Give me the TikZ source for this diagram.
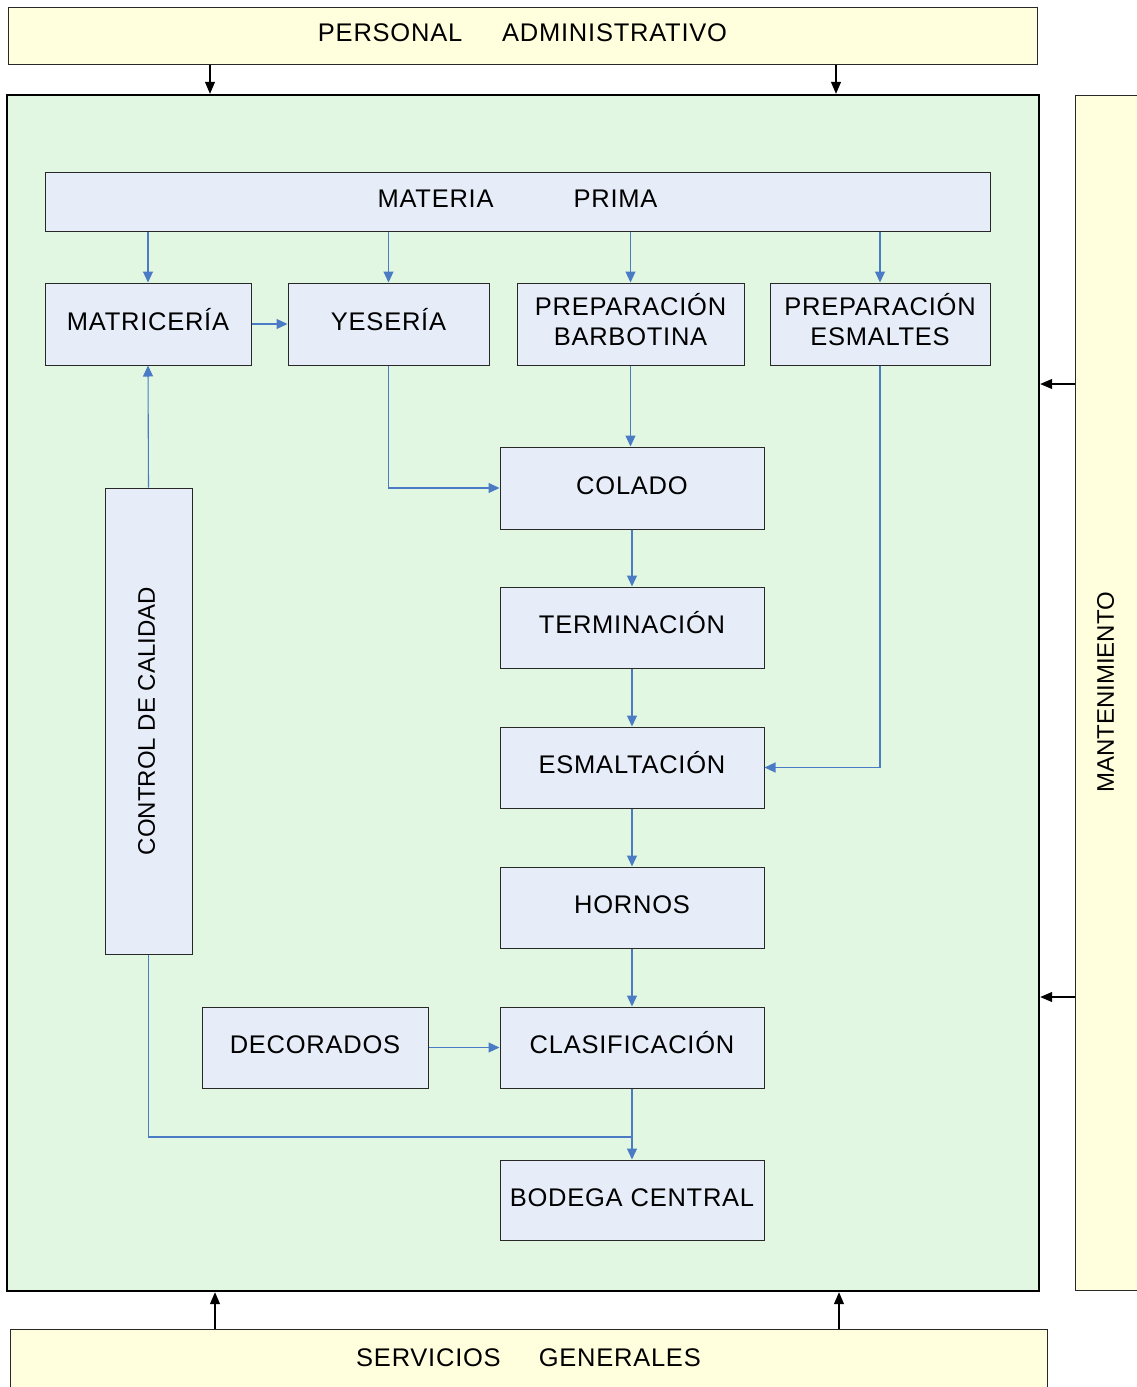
\documentclass[tikz,border=0pt]{standalone}
\usepackage{fontspec}
\setmainfont{Liberation Sans}[LetterSpace=3]
\newfontfamily\rotfont{Liberation Sans}
\usetikzlibrary{arrows.meta}
\definecolor{ylw}{RGB}{255,255,221}
\definecolor{grn}{RGB}{225,247,225}
\definecolor{bbox}{RGB}{230,237,248}
\definecolor{bline}{RGB}{74,123,196}
\definecolor{bord}{RGB}{40,40,40}
\newcommand{\twol}[2]{\raisebox{3.5pt}{\begin{tabular}{@{}c@{}}#1\\#2\end{tabular}}}
\tikzset{
  every node/.style={font=\fontsize{25.5}{30}\selectfont, text=black},
  box/.style={draw=bord, line width=1pt, fill=bbox, inner sep=0pt, align=center},
  one/.style={text height=20pt, text depth=8pt},
  ybox/.style={draw=bord, line width=1pt, fill=ylw, inner sep=0pt, align=center},
  rot/.style={font=\rotfont\fontsize{24}{28}\selectfont},
  barrow/.style={draw=bline, line width=1.1pt, -{Triangle[length=11pt,width=10pt]}},
  bline/.style={draw=bline, line width=1.1pt},
  karrow/.style={draw=black, line width=1.1pt, -{Triangle[length=12pt,width=10pt]}}
}
\begin{document}
\begin{tikzpicture}[x=1pt,y=-1pt]
\clip (0,0) rectangle (1137,1387);
\fill[white] (0,0) rectangle (1137,1387);
% outer frames
\node[ybox, one, minimum width=1029, minimum height=57] (pa) at (522.5,35.5) {PERSONAL\hspace{40pt}ADMINISTRATIVO};
\node[draw=black, line width=2.4pt, fill=grn, minimum width=1032, minimum height=1196, inner sep=0pt] (main) at (523,693) {};
\node[ybox, rot, minimum width=66, minimum height=1195, inner sep=0pt] (mant) at (1108,692.5) {\hspace*{-5pt}\rotatebox{90}{MANTENIMIENTO}};
\node[ybox, one, minimum width=1037, minimum height=62] (sg) at (528.5,1360) {SERVICIOS\hspace{38pt}GENERALES};
% outer arrows
\coordinate (ta) at (210,0);
\coordinate (tb) at (836,0);
\coordinate (ba) at (215,0);
\coordinate (bb) at (839,0);
\coordinate (ra) at (0,384);
\coordinate (rb) at (0,997);
\draw[karrow] (pa.south -| ta) -- (main.north -| ta);
\draw[karrow] (pa.south -| tb) -- (main.north -| tb);
\draw[karrow] (sg.north -| ba) -- (main.south -| ba);
\draw[karrow] (sg.north -| bb) -- (main.south -| bb);
\draw[karrow] (mant.west |- ra) -- (main.east |- ra);
\draw[karrow] (mant.west |- rb) -- (main.east |- rb);
% inner boxes
\node[box, one, minimum width=945, minimum height=59] (mp) at (517.5,201.5) {MATERIA\hspace{80pt}PRIMA};
\node[box, one, minimum width=206, minimum height=82] (matr) at (148,324) {MATRICERÍA};
\node[box, one, minimum width=201, minimum height=82] (yes) at (388.5,324) {YESERÍA};
\node[box, minimum width=227, minimum height=82] (barb) at (630.5,324) {\twol{PREPARACIÓN}{BARBOTINA}};
\node[box, minimum width=220, minimum height=82] (esm) at (880,324) {\twol{PREPARACIÓN}{ESMALTES}};
\node[box, one, minimum width=264, minimum height=82] (col) at (632,488) {COLADO};
\node[box, one, minimum width=264, minimum height=81] (term) at (632,627.5) {TERMINACIÓN};
\node[box, one, minimum width=264, minimum height=81] (esmt) at (632,767.5) {ESMALTACIÓN};
\node[box, one, minimum width=264, minimum height=81] (horn) at (632,907.5) {HORNOS};
\node[box, one, minimum width=264, minimum height=81] (clas) at (632,1047.5) {CLASIFICACIÓN};
\node[box, one, minimum width=264, minimum height=80] (bod) at (632,1200) {BODEGA CENTRAL};
\node[box, one, minimum width=226, minimum height=81] (deco) at (315,1047.5) {DECORADOS};
\node[box, rot, minimum width=87, minimum height=466] (ctrl) at (148.5,721) {\hspace*{-4pt}\rotatebox{90}{CONTROL DE CALIDAD}};
% connectors
\draw[barrow] (mp.south -| matr.north) -- (matr.north);
\draw[barrow] (mp.south -| yes.north) -- (yes.north);
\draw[barrow] (mp.south -| barb.north) -- (barb.north);
\draw[barrow] (mp.south -| esm.north) -- (esm.north);
\draw[barrow] (matr.east) -- (yes.west);
\draw[barrow] (barb.south) -- (barb.south |- col.north);
\draw[barrow] (yes.south) |- (col.west);
\draw[barrow] (esm.south) |- (esmt.east);
\draw[barrow] (col.south) -- (term.north);
\draw[barrow] (term.south) -- (esmt.north);
\draw[barrow] (esmt.south) -- (horn.north);
\draw[barrow] (horn.south) -- (clas.north);
\draw[barrow] (deco.east) -- (clas.west);
\draw[barrow] (clas.south) -- (bod.north);
\draw[barrow] (ctrl.north) -- (matr.south);
\coordinate (jn) at (632,1137);
\draw[bline] (ctrl.south) |- (jn);
\end{tikzpicture}
\end{document}
